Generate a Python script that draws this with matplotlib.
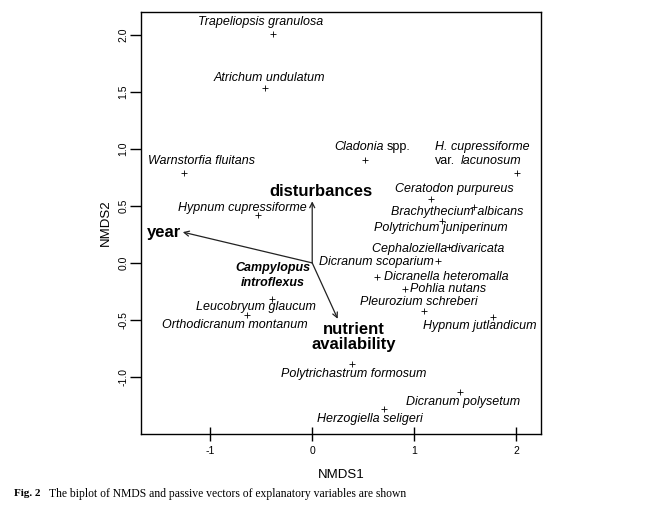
import matplotlib
matplotlib.use("Agg")
import matplotlib.pyplot as plt

plt.rcParams['font.family'] = ['Liberation Sans', 'DejaVu Sans']

# species scores (NMDS1, NMDS2)
species = ["Trapeliopsis granulosa", "Atrichum undulatum", "Cladonia spp.",
           "Warnstorfia fluitans", "H. cupressiforme var. lacunosum",
           "Ceratodon purpureus", "Brachythecium albicans", "Polytrichum juniperinum",
           "Cephaloziella divaricata", "Dicranum scoparium", "Dicranella heteromalla",
           "Pohlia nutans", "Pleurozium schreberi", "Hypnum jutlandicum",
           "Hypnum cupressiforme", "Leucobryum glaucum", "Orthodicranum montanum",
           "Polytrichastrum formosum", "Dicranum polysetum", "Herzogiella seligeri"]
sp_x = [-0.38, -0.46, 0.52, -1.26, 2.01, 1.17, 1.59, 1.27, 1.34, 1.23, 0.64,
        0.91, 1.10, 1.77, -0.53, -0.39, -0.64, 0.39, 1.45, 0.70]
sp_y = [2.01, 1.53, 0.90, 0.79, 0.79, 0.56, 0.49, 0.37, 0.14, 0.02, -0.12,
        -0.23, -0.42, -0.47, 0.42, -0.32, -0.46, -0.89, -1.13, -1.28]

# label anchor positions (data coords) and alignment
lab_x = [-0.51, -0.42, None, -1.09, None, 1.39, 1.42, 1.26, 1.24, 1.19, 0.70,
         0.96, 1.05, 1.64, -0.69, -0.55, -0.76, 0.41, 1.48, 0.57]
lab_y = [2.11, 1.62, None, 0.89, None, 0.65, 0.45, 0.31, 0.12, 0.01, -0.12,
         -0.23, -0.34, -0.55, 0.48, -0.39, -0.54, -0.97, -1.22, -1.37]
lab_ha = ['center', 'center', None, 'center', None, 'center', 'center', 'center',
          'center', 'right', 'left', 'left', 'center', 'center', 'center', 'center',
          'center', 'center', 'center', 'center']

# passive environmental vectors
env_names = ["disturbances", "year", "nutrient\navailability"]
env_x = [0.0, -1.27, 0.25]
env_y = [0.54, 0.27, -0.49]

xticks = [-1, 0, 1, 2]
yticks = [-1.0, -0.5, 0.0, 0.5, 1.0, 1.5, 2.0]

fig = plt.figure(figsize=(6.55, 5.24), dpi=100)
ax = fig.add_axes([141/655, 1-434/524, 400/655, 422/524])
ax.set_xlim(-1.68, 2.245)
ax.set_ylim(-1.50, 2.20)

ax.plot(sp_x, sp_y, linestyle='none', marker='+', color='black', markersize=5, markeredgewidth=0.6)

fs = 9
for i, name in enumerate(species):
    if lab_x[i] is None:
        continue
    ax.text(lab_x[i], lab_y[i], name, fontsize=fs, style='italic', ha=lab_ha[i], va='center')

# Cladonia spp. (mixed style)
ax.text(0.70, 1.02, "Cladonia", fontsize=fs, style='italic', ha='right', va='center')
ax.text(0.73, 1.02, "spp.", fontsize=fs, ha='left', va='center')
# H. cupressiforme var. lacunosum
ax.text(1.20, 1.02, "H. cupressiforme", fontsize=fs, style='italic', ha='left', va='center')
ax.text(1.20, 0.89, "var.", fontsize=fs, ha='left', va='center')
ax.text(1.46, 0.89, "lacunosum", fontsize=fs, style='italic', ha='left', va='center')
# Campylopus introflexus
ax.text(-0.39, -0.11, "Campylopus\nintroflexus", fontsize=fs, style='italic', weight='bold',
        ha='center', va='center', linespacing=1.25)

# arrows
for i in range(3):
    ax.annotate("", xy=(env_x[i], env_y[i]), xytext=(0, 0),
                arrowprops=dict(arrowstyle='->', color='#222222', lw=0.9,
                                shrinkA=0, shrinkB=0, mutation_scale=9))
ax.text(0.09, 0.63, env_names[0], fontsize=12, weight='bold', ha='center', va='center')
ax.text(-1.29, 0.27, env_names[1], fontsize=12, weight='bold', ha='right', va='center')
ax.text(0.41, -0.65, env_names[2], fontsize=12, weight='bold', ha='center', va='center',
        linespacing=0.95)

ax.set_xticks(xticks)
ax.set_xticklabels([str(t) for t in xticks])
ax.set_yticks(yticks)
ax.set_yticklabels([f"{t:.1f}" for t in yticks], rotation=90, va='center')
ax.tick_params(axis='x', direction='inout', length=10, width=1, labelsize=7.5, pad=4)
ax.tick_params(axis='y', direction='out', length=8, width=1, labelsize=7.5, pad=1)
for s in ax.spines.values():
    s.set_linewidth(1)

ax.set_xlabel("NMDS1", fontsize=9.5, labelpad=9)
ax.set_ylabel("NMDS2", fontsize=9.5, labelpad=5)

fig.text(14/655, 1-494/524, "Fig. 2", fontsize=8, weight='bold',
         family='Liberation Serif', ha='left', va='center')
fig.text(49/655, 1-494/524, "The biplot of NMDS and passive vectors of explanatory variables are shown",
         fontsize=8.35, family='Liberation Serif', ha='left', va='center')

fig.savefig("out.png", dpi=100)
